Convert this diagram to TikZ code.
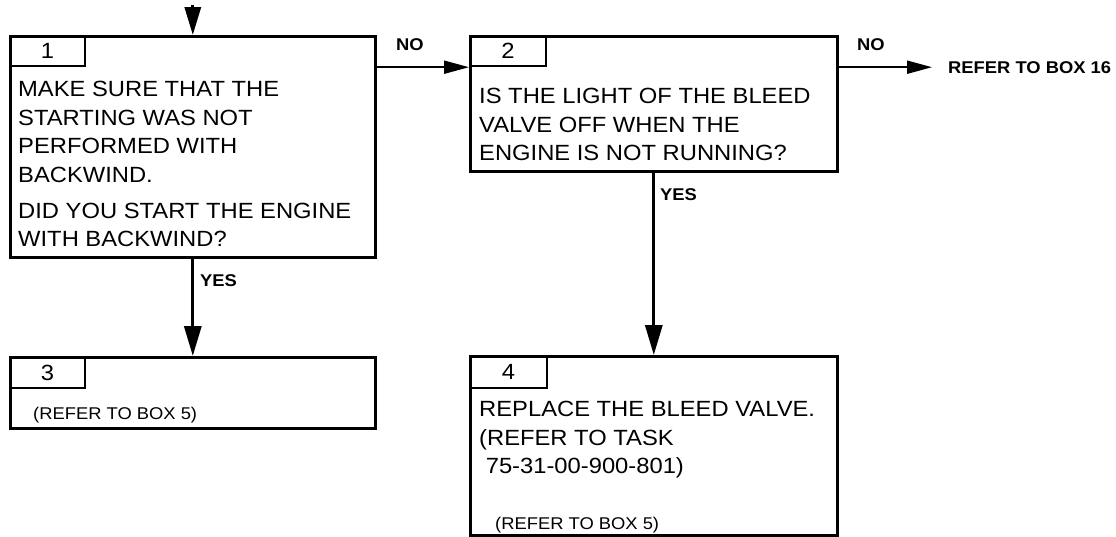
\documentclass[tikz,border=0pt]{standalone}
\usepackage{fontspec}
\setmainfont{Liberation Sans}[FakeStretch=1.08]
\usetikzlibrary{arrows.meta}
\begin{document}
\begin{tikzpicture}[x=1pt,y=-1pt,
  box/.style={draw, line width=2.6pt, rectangle, inner sep=0pt, anchor=north west},
  tabbox/.style={draw, line width=2.2pt, rectangle, inner sep=0pt, anchor=north west,
     font=\fontsize{22}{26}\selectfont},
  body/.style={inner sep=0pt, anchor=north west, align=left,
     font=\fontsize{22}{28.5}\selectfont},
  small/.style={inner sep=0pt, anchor=base west, font=\fontsize{17}{20}\selectfont},
  lbl/.style={inner sep=0pt, anchor=base west, font=\fontsize{17}{20}\selectfont\bfseries},
  noarr/.style={line width=2pt, -{Triangle[length=25pt,width=13pt]}},
  yesarr/.style={line width=3.2pt, -{Triangle[length=30pt,width=17pt]}},
  toparr/.style={line width=3.2pt, -{Triangle[length=28pt,width=16pt]}}
]
\useasboundingbox (0,0) rectangle (1116,536);
% boxes
\node[box, minimum width=365pt, minimum height=221pt] (b1) at (9,35) {};
\node[box, minimum width=367pt, minimum height=135pt] (b2) at (469,35) {};
\node[box, minimum width=365pt, minimum height=71pt] (b3) at (9,356) {};
\node[box, minimum width=367pt, minimum height=179pt] (b4) at (469,355) {};
% number tabs
\node[tabbox, minimum width=75pt, minimum height=30pt] (n1) at (9,35) {1};
\node[tabbox, minimum width=76pt, minimum height=30pt] (n2) at (469,35) {2};
\node[tabbox, minimum width=75pt, minimum height=31pt] (n3) at (9,356) {3};
\node[tabbox, minimum width=77pt, minimum height=32pt] (n4) at (469,355) {4};
% texts
\node[body] (t1) at (18,81) {MAKE SURE THAT THE\\STARTING WAS NOT\\PERFORMED WITH\\BACKWIND.\\[7.5pt]DID YOU START THE ENGINE\\WITH BACKWIND?};
\node[body] (t2) at (479,88) {IS THE LIGHT OF THE BLEED\\VALVE OFF WHEN THE\\ENGINE IS NOT RUNNING?};
\node[small] (t3) at (33,419) {(REFER TO BOX 5)};
\node[body] (t4) at (479,401) {REPLACE THE BLEED VALVE.\\(REFER TO TASK\\\ 75-31-00-900-801)};
\node[small] (t4c) at (495,529) {(REFER TO BOX 5)};
% labels
\node[lbl] (l1) at (396,50) {NO};
\node[lbl] (l2) at (857,50) {NO};
\node[lbl] (l3) at (200,286) {YES};
\node[lbl] (l4) at (660,200) {YES};
\node[lbl] (ref) at (948,73) {REFER TO BOX 16};
% connectors
\coordinate (top) at (b1.north |- 0,5);
\coordinate (end16) at (n2.south -| 932,0);
\draw[toparr] (top) -- (b1.north);
\draw[noarr] (n1.south -| b1.east) -- (n2.south west);
\draw[noarr] (n2.south -| b2.east) -- (end16);
\draw[yesarr] (b1.south) -- (b3.north);
\draw[yesarr] (b2.south) -- (b4.north);
\end{tikzpicture}
\end{document}
